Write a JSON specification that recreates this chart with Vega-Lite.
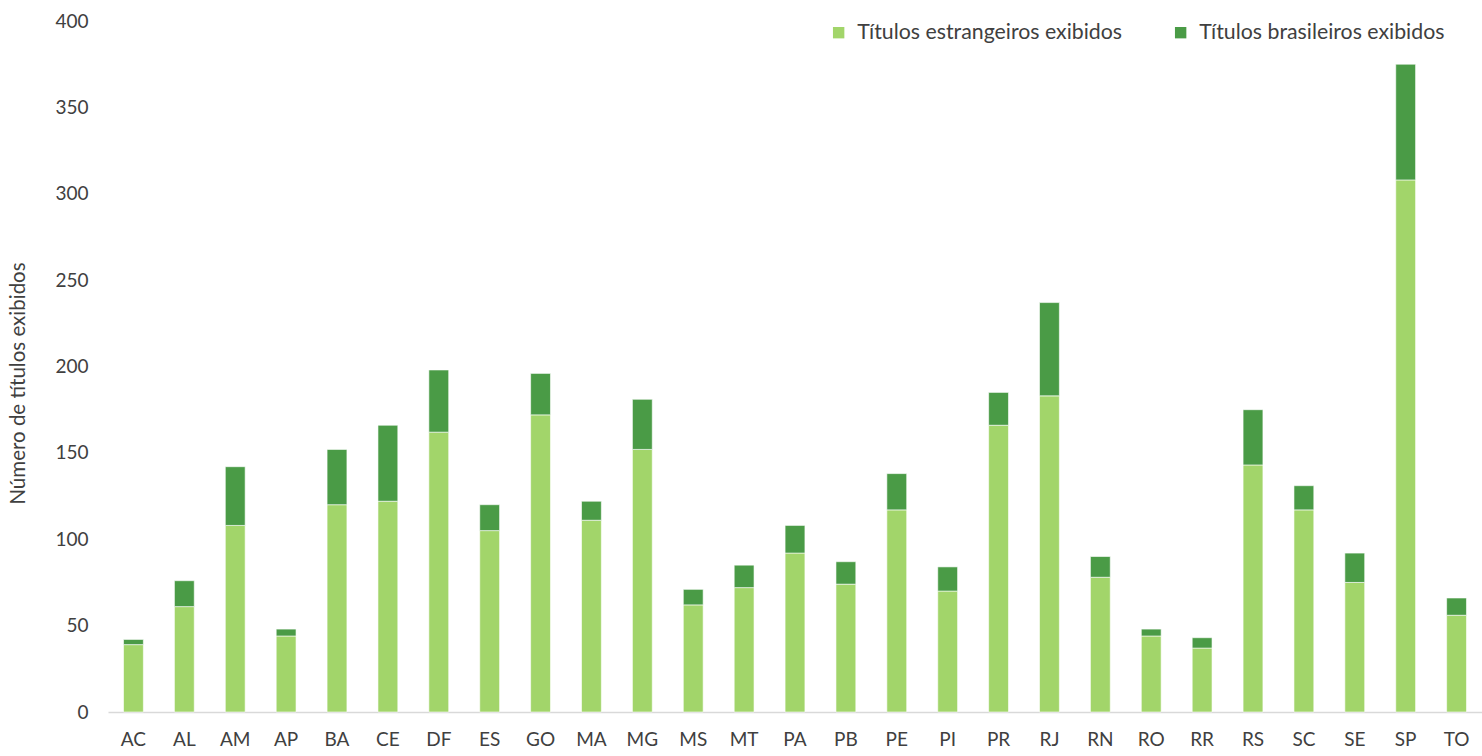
{
  "$schema": "https://vega.github.io/schema/vega-lite/v6.json",
  "autosize": {"type": "none"},
  "width": 1374,
  "height": 691,
  "padding": {"left": 108, "top": 21, "right": 0, "bottom": 44},
  "background": "white",
  "config": {
    "view": {"stroke": null},
    "font": "Lato",
    "axis": {"labelFont": "Lato", "titleFont": "Lato", "labelColor": "#404040", "titleColor": "#404040", "grid": false, "ticks": false},
    "legend": {"labelFont": "Lato"}
  },
  "data": {
    "values": [
      {"uf": "AC", "tipo": "Títulos estrangeiros exibidos", "valor": 39},
      {"uf": "AC", "tipo": "Títulos brasileiros exibidos", "valor": 3},
      {"uf": "AL", "tipo": "Títulos estrangeiros exibidos", "valor": 61},
      {"uf": "AL", "tipo": "Títulos brasileiros exibidos", "valor": 15},
      {"uf": "AM", "tipo": "Títulos estrangeiros exibidos", "valor": 108},
      {"uf": "AM", "tipo": "Títulos brasileiros exibidos", "valor": 34},
      {"uf": "AP", "tipo": "Títulos estrangeiros exibidos", "valor": 44},
      {"uf": "AP", "tipo": "Títulos brasileiros exibidos", "valor": 4},
      {"uf": "BA", "tipo": "Títulos estrangeiros exibidos", "valor": 120},
      {"uf": "BA", "tipo": "Títulos brasileiros exibidos", "valor": 32},
      {"uf": "CE", "tipo": "Títulos estrangeiros exibidos", "valor": 122},
      {"uf": "CE", "tipo": "Títulos brasileiros exibidos", "valor": 44},
      {"uf": "DF", "tipo": "Títulos estrangeiros exibidos", "valor": 162},
      {"uf": "DF", "tipo": "Títulos brasileiros exibidos", "valor": 36},
      {"uf": "ES", "tipo": "Títulos estrangeiros exibidos", "valor": 105},
      {"uf": "ES", "tipo": "Títulos brasileiros exibidos", "valor": 15},
      {"uf": "GO", "tipo": "Títulos estrangeiros exibidos", "valor": 172},
      {"uf": "GO", "tipo": "Títulos brasileiros exibidos", "valor": 24},
      {"uf": "MA", "tipo": "Títulos estrangeiros exibidos", "valor": 111},
      {"uf": "MA", "tipo": "Títulos brasileiros exibidos", "valor": 11},
      {"uf": "MG", "tipo": "Títulos estrangeiros exibidos", "valor": 152},
      {"uf": "MG", "tipo": "Títulos brasileiros exibidos", "valor": 29},
      {"uf": "MS", "tipo": "Títulos estrangeiros exibidos", "valor": 62},
      {"uf": "MS", "tipo": "Títulos brasileiros exibidos", "valor": 9},
      {"uf": "MT", "tipo": "Títulos estrangeiros exibidos", "valor": 72},
      {"uf": "MT", "tipo": "Títulos brasileiros exibidos", "valor": 13},
      {"uf": "PA", "tipo": "Títulos estrangeiros exibidos", "valor": 92},
      {"uf": "PA", "tipo": "Títulos brasileiros exibidos", "valor": 16},
      {"uf": "PB", "tipo": "Títulos estrangeiros exibidos", "valor": 74},
      {"uf": "PB", "tipo": "Títulos brasileiros exibidos", "valor": 13},
      {"uf": "PE", "tipo": "Títulos estrangeiros exibidos", "valor": 117},
      {"uf": "PE", "tipo": "Títulos brasileiros exibidos", "valor": 21},
      {"uf": "PI", "tipo": "Títulos estrangeiros exibidos", "valor": 70},
      {"uf": "PI", "tipo": "Títulos brasileiros exibidos", "valor": 14},
      {"uf": "PR", "tipo": "Títulos estrangeiros exibidos", "valor": 166},
      {"uf": "PR", "tipo": "Títulos brasileiros exibidos", "valor": 19},
      {"uf": "RJ", "tipo": "Títulos estrangeiros exibidos", "valor": 183},
      {"uf": "RJ", "tipo": "Títulos brasileiros exibidos", "valor": 54},
      {"uf": "RN", "tipo": "Títulos estrangeiros exibidos", "valor": 78},
      {"uf": "RN", "tipo": "Títulos brasileiros exibidos", "valor": 12},
      {"uf": "RO", "tipo": "Títulos estrangeiros exibidos", "valor": 44},
      {"uf": "RO", "tipo": "Títulos brasileiros exibidos", "valor": 4},
      {"uf": "RR", "tipo": "Títulos estrangeiros exibidos", "valor": 37},
      {"uf": "RR", "tipo": "Títulos brasileiros exibidos", "valor": 6},
      {"uf": "RS", "tipo": "Títulos estrangeiros exibidos", "valor": 143},
      {"uf": "RS", "tipo": "Títulos brasileiros exibidos", "valor": 32},
      {"uf": "SC", "tipo": "Títulos estrangeiros exibidos", "valor": 117},
      {"uf": "SC", "tipo": "Títulos brasileiros exibidos", "valor": 14},
      {"uf": "SE", "tipo": "Títulos estrangeiros exibidos", "valor": 75},
      {"uf": "SE", "tipo": "Títulos brasileiros exibidos", "valor": 17},
      {"uf": "SP", "tipo": "Títulos estrangeiros exibidos", "valor": 308},
      {"uf": "SP", "tipo": "Títulos brasileiros exibidos", "valor": 67},
      {"uf": "TO", "tipo": "Títulos estrangeiros exibidos", "valor": 56},
      {"uf": "TO", "tipo": "Títulos brasileiros exibidos", "valor": 10}
    ]
  },
  "mark": {"type": "bar", "stroke": "white", "strokeWidth": 0.6},
  "encoding": {
    "x": {
      "field": "uf",
      "type": "nominal",
      "sort": null,
      "scale": {"paddingInner": 0.61, "paddingOuter": 0.305},
      "axis": {"title": null, "labelAngle": 0, "labelFontSize": 19, "labelPadding": 18, "domain": true, "domainColor": "#d9d9d9", "domainWidth": 1.5}
    },
    "y": {
      "field": "valor",
      "type": "quantitative",
      "stack": "zero",
      "scale": {"domain": [0, 400], "nice": false},
      "axis": {
        "title": "Número de títulos exibidos",
        "titleFontSize": 20.5,
        "titleFontWeight": "normal",
        "titleX": -80,
        "titleY": 362,
        "values": [0, 50, 100, 150, 200, 250, 300, 350, 400],
        "labelFontSize": 19,
        "labelPadding": 20,
        "domain": false
      }
    },
    "color": {
      "field": "tipo",
      "type": "nominal",
      "scale": {
        "domain": ["Títulos estrangeiros exibidos", "Títulos brasileiros exibidos"],
        "range": ["#a2d56a", "#4a9b46"]
      },
      "legend": {
        "title": null,
        "orient": "none",
        "legendX": 720,
        "legendY": 1,
        "direction": "horizontal",
        "symbolType": "square",
        "symbolSize": 130,
        "symbolStrokeWidth": 0,
        "labelFontSize": 21.3,
        "labelColor": "#404040",
        "labelLimit": 400,
        "columnPadding": 47,
        "labelOffset": 8
      }
    },
    "order": {"field": "tipo", "sort": "descending"}
  }
}
